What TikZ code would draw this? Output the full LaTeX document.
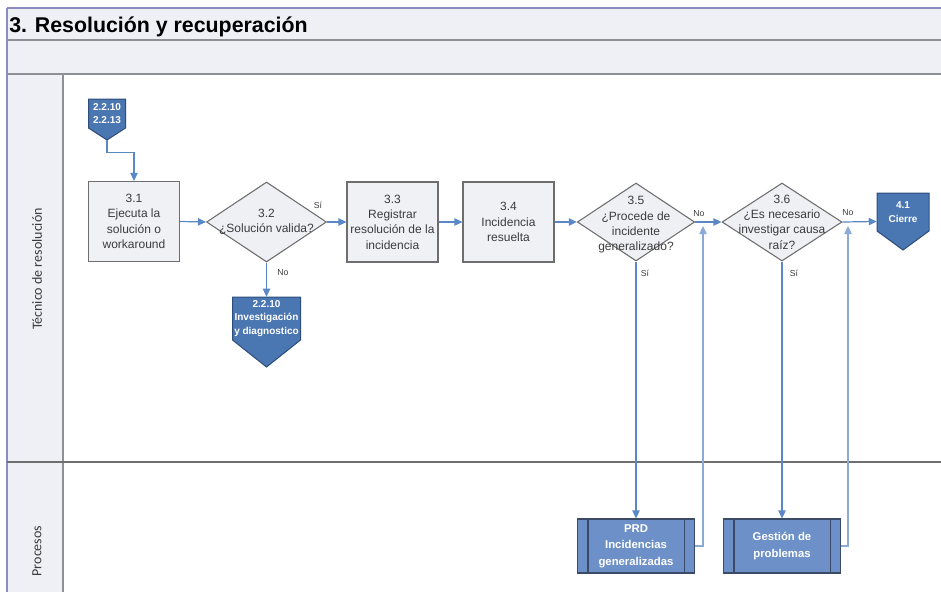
\documentclass[tikz,border=0pt]{standalone}
\usepackage{fontspec}
\setmainfont{Liberation Sans}
\newfontfamily\lanefont{Carlito}
\usetikzlibrary{shapes.geometric,arrows.meta}
\definecolor{band}{HTML}{EEF0F6}
\definecolor{frameline}{HTML}{8E9096}
\definecolor{edgeline}{HTML}{8C8CC0}
\definecolor{boxfill}{HTML}{F0F1F5}
\definecolor{boxdraw}{HTML}{6E6E6E}
\definecolor{decfill}{HTML}{EEF0F4}
\definecolor{pentfill}{HTML}{4A76B2}
\definecolor{pentdraw}{HTML}{2F4D7A}
\definecolor{prdfill}{HTML}{6D90C8}
\definecolor{prddraw}{HTML}{3B4A66}
\definecolor{arrowc}{HTML}{5A87C6}
\definecolor{txt}{HTML}{3C3C3C}
\newcommand{\pentnode}[7]{%
  \fill[pentfill, draw=pentdraw, line width=0.75pt] ({#2-#4/2},#3) -- ({#2+#4/2},#3) -- ({#2+#4/2},#5) -- (#2,#6) -- ({#2-#4/2},#5) -- cycle;
  \node[inner sep=0pt, minimum width={#4*0.75pt}, minimum height={(#6-#3)*0.75pt}] (#1) at (#2,{(#3+#6)/2}) {};
  \node[penttext] (#1t) at (#2,{(#3+#5)/2}) {#7};
}
\begin{document}
\begin{tikzpicture}[x=0.75pt,y=-0.75pt,
  procbox/.style={draw=boxdraw, fill=boxfill, line width=0.8pt, inner sep=0pt,
    minimum width=68.25pt, minimum height=60pt},
  boxtext/.style={text=txt, align=center, font=\fontsize{9}{11.5}\selectfont, inner sep=0pt},
  decision/.style={diamond, draw=boxdraw, fill=decfill, line width=0.8pt, inner sep=0pt,
    minimum width=89pt, minimum height=59pt},
  penttext/.style={text=white, align=center, font=\fontsize{7.5}{10}\selectfont\bfseries, inner sep=0pt},
  predef/.style={draw=prddraw, fill=prdfill, line width=0.8pt, inner sep=0pt,
    minimum width=87.75pt, minimum height=40.5pt, text=white, align=center,
    font=\fontsize{8.5}{12.5}\selectfont\bfseries},
  flow/.style={draw=arrowc, line width=0.9pt, -{Triangle[length=6pt,width=5.5pt]}},
  backflow/.style={draw=arrowc!70, line width=0.9pt, -{Triangle[length=6pt,width=5.5pt]}},
  lbl/.style={text=txt, font=\fontsize{6.5}{7}\selectfont, inner sep=0pt},
  lane/.style={text=txt, font=\lanefont\fontsize{10.5}{12}\selectfont, inner sep=0pt, rotate=90}
]
\useasboundingbox (0,0) rectangle (941,592);
\fill[white] (0,0) rectangle (941,592);
% frame bands
\fill[band] (7,8) rectangle (941,40);
\fill[band] (7,40) rectangle (941,74);
\fill[band] (7,74) rectangle (63,592);
\draw[edgeline, line width=0.8pt] (7,8) -- (941,8);
\draw[edgeline, line width=0.8pt] (7,8) -- (7,592);
\draw[frameline, line width=1.5pt] (7,40) -- (941,40);
\draw[frameline, line width=1.5pt] (7,74) -- (941,74);
\draw[frameline, line width=1.5pt] (63,74) -- (63,592);
\draw[boxdraw, line width=1.1pt] (7,462) -- (941,462);
% title and lanes
\node[anchor=base west, inner sep=0pt, font=\fontsize{16}{18}\selectfont\bfseries, text=black] (title) at (9,33) {3. Resolución y recuperación};
\node[lane] (lane1) at (37,269) {Técnico de resolución};
\node[lane] (lane2) at (37,551) {Procesos};
% pentagons
\pentnode{p1}{107}{99}{37}{128}{140}{2.2.10\\2.2.13}
\pentnode{p2}{266.5}{297}{68}{340}{367}{2.2.10\\Investigación\\y diagnostico}
\pentnode{p41}{903}{193}{52}{231}{250}{4.1\\Cierre}
% process boxes
\node[procbox] (b31) at (134,221.5) {};
\node[boxtext] (b31t) at (b31) {3.1\\Ejecuta la\\solución o\\workaround};
\node[procbox] (b33) at (392.5,222) {};
\node[boxtext] (b33t) at (b33) {3.3\\Registrar\\resolución de la\\incidencia};
\node[procbox] (b34) at (508.5,222) {};
\node[boxtext] (b34t) at (b34) {3.4\\Incidencia\\resuelta};
% decisions
\node[decision, minimum width=90pt, minimum height=60pt] (d32) at (266.5,222) {};
\node[boxtext] (d32t) at (d32) {3.2\\¿Solución valida?};
\node[decision, minimum width=88pt, minimum height=58.5pt] (d35) at (636,222) {};
\node[boxtext] (d35t) at (636,225) {3.5\\¿Procede de\\incidente\\generalizado?};
\node[decision, minimum width=90pt, minimum height=58.5pt] (d36) at (782,222) {};
\node[boxtext] (d36t) at (782,222) {3.6\\¿Es necesario\\investigar causa\\raíz?};
% predefined processes
\node[predef] (prd) at (636,546) {PRD\\Incidencias\\generalizadas};
\draw[prddraw, line width=0.8pt] ([xshift=8.25pt]prd.north west) -- ([xshift=8.25pt]prd.south west);
\draw[prddraw, line width=0.8pt] ([xshift=-8.25pt]prd.north east) -- ([xshift=-8.25pt]prd.south east);
\node[predef] (gp) at (782,546) {Gestión de\\problemas};
\draw[prddraw, line width=0.8pt] ([xshift=8.25pt]gp.north west) -- ([xshift=8.25pt]gp.south west);
\draw[prddraw, line width=0.8pt] ([xshift=-8.25pt]gp.north east) -- ([xshift=-8.25pt]gp.south east);
% return coordinates
\coordinate (r1) at (703,226);
\coordinate (r2) at (848,226);
% connectors
\draw[flow] (p1.south) -- ++(0,12) -| (b31.north);
\draw[flow] (b31.east) -- (d32.west);
\draw[flow] (d32.east) -- (b33.west);
\draw[flow] (d32.south) -- (p2.north);
\draw[flow] (b33.east) -- (b34.west);
\draw[flow] (b34.east) -- (d35.west);
\draw[flow] (d35.east) -- (d36.west);
\draw[flow] (d36.east) -- (p41.west);
\draw[flow] (d35.south) -- (prd.north);
\draw[flow] (d36.south) -- (gp.north);
\draw[backflow] (prd.east) -| (r1);
\draw[backflow] (gp.east) -| (r2);
% labels
\node[lbl] (l1) at (318,205) {Sí};
\node[lbl] (l2) at (283,273) {No};
\node[lbl] (l3) at (699,214) {No};
\node[lbl] (l4) at (645,273) {Sí};
\node[lbl] (l5) at (848,213) {No};
\node[lbl] (l6) at (794,273) {Sí};
\end{tikzpicture}
\end{document}
